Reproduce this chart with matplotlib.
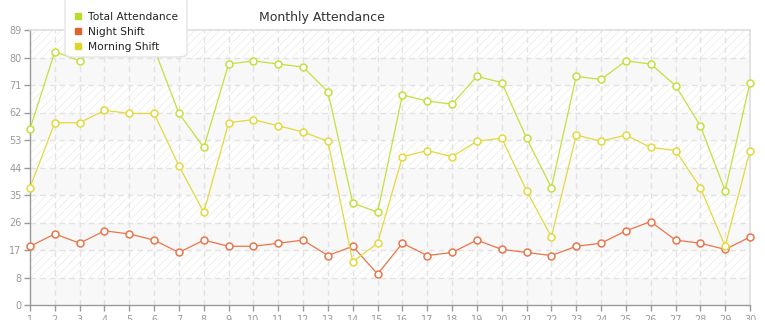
import matplotlib
matplotlib.use("Agg")
import matplotlib.pyplot as plt
from matplotlib.lines import Line2D
from matplotlib.patches import FancyBboxPatch
import numpy as np

plt.rcParams["font.family"] = ["DejaVu Sans"]
plt.rcParams["hatch.linewidth"] = 0.6
plt.rcParams["hatch.color"] = "#eeeeee"

# Data
days = list(range(1, 31))
total_attendance = [57, 82, 79, 87, 85, 83, 62, 51, 78, 79, 78, 77, 69, 33, 30,
                    68, 66, 65, 74, 72, 54, 38, 74, 73, 79, 78, 71, 58, 37, 72]
night_shift = [19, 23, 20, 24, 23, 21, 17, 21, 19, 19, 20, 21, 16, 19, 10,
               20, 16, 17, 21, 18, 17, 16, 19, 20, 24, 27, 21, 20, 18, 22]
morning_shift = [38, 59, 59, 63, 62, 62, 45, 30, 59, 60, 58, 56, 53, 14, 20,
                 48, 50, 48, 53, 54, 37, 22, 55, 53, 55, 51, 50, 38, 19, 50]
y_max = 89
y_ticks = np.linspace(0, y_max, 11)
y_labels = [str(int(np.floor(v + 1e-9))) for v in y_ticks]

series = [
    ("Total Attendance", total_attendance, "#c3e03e", "#b8dc28"),
    ("Night Shift", night_shift, "#e9764a", "#e0622e"),
    ("Morning Shift", morning_shift, "#e2da3e", "#ddd52a"),
]

fig = plt.figure(figsize=(7.65, 3.2), dpi=100)
ax = fig.add_axes([30 / 765, 15 / 320, 720 / 765, 275 / 320])

# striped / hatched background bands
for i in range(10):
    lo, hi = y_ticks[i], y_ticks[i + 1]
    if i % 2 == 0:
        ax.axhspan(lo, hi, facecolor="#f8f8f8", edgecolor="none", zorder=0)
    else:
        ax.axhspan(lo, hi, facecolor="white", edgecolor="#eeeeee",
                   hatch="////", linewidth=0, zorder=0)

for v in y_ticks[1:-1]:
    ax.axhline(v, color="#e2e2e2", linewidth=1, dashes=(4, 3), zorder=1)
for d in days[1:-1]:
    ax.axvline(d, color="#e2e2e2", linewidth=1, dashes=(4, 3), zorder=1)

for name, vals, lc, sc in series:
    ax.plot(days, vals, color=lc, linewidth=0.9, marker="o", markersize=5,
            markerfacecolor="white", markeredgecolor=lc, markeredgewidth=1.1,
            zorder=3, clip_on=False)

ax.set_xlim(1, 30)
ax.set_ylim(0, y_max)
ax.set_xticks(days)
ax.set_xticklabels([str(d) for d in days])
ax.set_yticks(y_ticks)
ax.set_yticklabels(y_labels)
ax.tick_params(axis="both", colors="#999999", labelsize=7, length=4, width=1)
ax.tick_params(axis="x", pad=3)
ax.tick_params(axis="y", pad=2)
ax.tick_params(axis="both", labelcolor="#999999")

for s in ["left", "bottom"]:
    ax.spines[s].set_color("#9a9a9a")
    ax.spines[s].set_linewidth(1)
for s in ["top", "right"]:
    ax.spines[s].set_color("#dedede")
    ax.spines[s].set_linewidth(1.2)

fig.text(322 / 765, 1 - 17 / 320, "Monthly Attendance", ha="center", va="center",
         fontsize=9, color="#333333")

# legend box runs off the top edge, so draw the box separately
box = FancyBboxPatch((65 / 765, 1 - 57 / 320), 122 / 765, 80 / 320,
                     boxstyle="round,pad=0,rounding_size=0.012",
                     transform=fig.transFigure, facecolor="white",
                     edgecolor="#e4e4e4", linewidth=1, zorder=9)
fig.patches.append(box)

handles = [Line2D([0], [0], marker="s", linestyle="none", markersize=4.5,
                  markerfacecolor=sc, markeredgecolor=sc) for _, _, _, sc in series]
leg = fig.legend(handles, [s[0] for s in series], loc="upper left",
                 bbox_to_anchor=(74 / 765, 1 - 12 / 320), borderaxespad=0,
                 fontsize=7.7, frameon=False, handlelength=0.8,
                 handletextpad=0.5, labelspacing=0.45, borderpad=0,
                 labelcolor="#222222")
leg.set_zorder(10)

fig.savefig("out.png", dpi=100)
